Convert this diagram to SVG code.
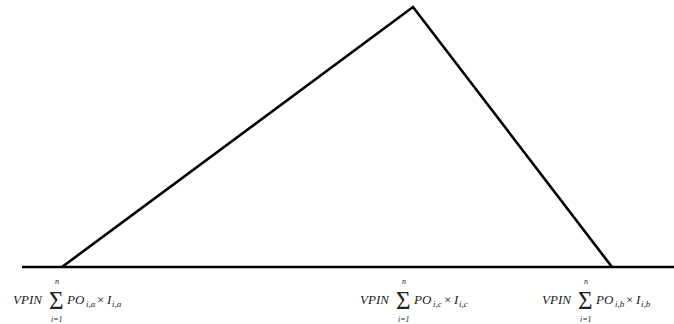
<svg xmlns="http://www.w3.org/2000/svg" width="674" height="324" viewBox="0 0 674 324">
<style>
.ln{stroke:#000;stroke-width:2.6;fill:none;stroke-linejoin:miter}
.t{font-family:"Liberation Serif",serif;font-style:italic;font-size:13px;fill:#222}
.s{font-family:"Liberation Serif",serif;font-size:25px;fill:#222}
.sm{font-family:"Liberation Serif",serif;font-style:italic;font-size:8px;fill:#222}
.sb{font-family:"Liberation Serif",serif;font-style:italic;font-size:9px;fill:#222}
.x{font-family:"Liberation Serif",serif;font-size:13px;fill:#222}
</style>
<rect width="674" height="324" fill="#fff"/>
<g id="connectors">
<line class="ln" x1="22" y1="267" x2="674" y2="267"/>
<polyline class="ln" points="62,267 413,7 612,267"/>
</g>
<g id="label-a" transform="translate(13,0)">
<text class="t" x="0" y="304">VPIN</text>
<text class="s" x="36" y="309">Σ</text>
<text class="sm" x="42" y="284">n</text>
<text class="sm" x="38" y="322">i=1</text>
<text class="t" x="54" y="304">PO</text>
<text class="sb" x="73" y="307">i,a</text>
<text class="x" x="84" y="304">×</text>
<text class="t" x="94" y="304">I</text>
<text class="sb" x="99" y="307">i,a</text>
</g>
<g id="label-c" transform="translate(360,0)">
<text class="t" x="0" y="304">VPIN</text>
<text class="s" x="36" y="309">Σ</text>
<text class="sm" x="42" y="284">n</text>
<text class="sm" x="38" y="322">i=1</text>
<text class="t" x="54" y="304">PO</text>
<text class="sb" x="73" y="307">i,c</text>
<text class="x" x="84" y="304">×</text>
<text class="t" x="94" y="304">I</text>
<text class="sb" x="99" y="307">i,c</text>
</g>
<g id="label-b" transform="translate(542,0)">
<text class="t" x="0" y="304">VPIN</text>
<text class="s" x="36" y="309">Σ</text>
<text class="sm" x="42" y="284">n</text>
<text class="sm" x="38" y="322">i=1</text>
<text class="t" x="54" y="304">PO</text>
<text class="sb" x="73" y="307">i,b</text>
<text class="x" x="84" y="304">×</text>
<text class="t" x="94" y="304">I</text>
<text class="sb" x="99" y="307">i,b</text>
</g>
</svg>
